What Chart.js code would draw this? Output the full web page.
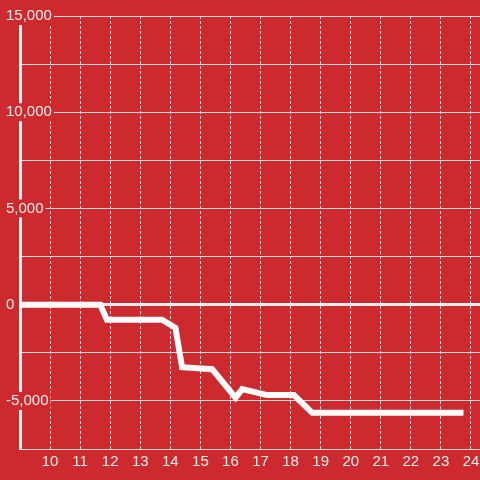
<!DOCTYPE html>
<html>
<head>
    <title>Line chart</title>
    <script src="https://cdnjs.cloudflare.com/ajax/libs/Chart.js/4.4.1/chart.umd.min.js"></script>
    <style>
        body { margin: 0; background: #cc2a2e; }
        canvas { display: block; }
    </style>
</head>
<body>
    <canvas id="myChart" width="480" height="480"></canvas>

    <script>
        // values
        const xValues = [9, 11.67, 11.89, 13.72, 14.17, 14.39, 15.39, 16.17, 16.39, 17.22, 18.11, 18.72, 23.65];
        const yValues = [0, 0, -780, -780, -1200, -3250, -3350, -4830, -4390, -4700, -4700, -5620, -5620];
        const xTicks = [10, 11, 12, 13, 14, 15, 16, 17, 18, 19, 20, 21, 22, 23, 24];
        const yTicks = [-7500, -5000, -2500, 0, 2500, 5000, 7500, 10000, 12500, 15000];

        const bg = '#cc2a2e';
        const points = xValues.map((x, i) => ({ x: x, y: yValues[i] }));

        Chart.defaults.font.family = "'Liberation Sans', Arial, sans-serif";
        Chart.defaults.font.size = 15;

        const ctx = document.getElementById('myChart').getContext('2d');
        new Chart(ctx, {
            type: 'line',
            data: {
                datasets: [{
                    data: points,
                    borderColor: '#fff',
                    borderWidth: 6,
                    borderCapStyle: 'square',
                    borderJoinStyle: 'miter',
                    pointRadius: 0,
                    tension: 0,
                    fill: false
                }]
            },
            options: {
                responsive: false,
                animation: false,
                layout: { padding: { top: 16, left: 6, right: 0, bottom: 5 } },
                plugins: {
                    legend: { display: false },
                    tooltip: { enabled: false }
                },
                scales: {
                    x: {
                        type: 'linear',
                        min: 9,
                        max: 24.3,
                        afterBuildTicks: axis => { axis.ticks = xTicks.map(v => ({ value: v })); },
                        afterFit: axis => { axis.paddingLeft = 0; axis.paddingRight = 0; },
                        grid: { color: 'rgba(255,255,255,0.85)', drawTicks: false },
                        border: { display: false, dash: [3, 2] },
                        ticks: { color: '#eee', padding: 4, maxRotation: 0 }
                    },
                    y: {
                        min: -7500,
                        max: 15000,
                        afterBuildTicks: axis => { axis.ticks = yTicks.map(v => ({ value: v })); },
                        afterFit: axis => { axis.width = 14; axis.paddingTop = 0; axis.paddingBottom = 0; },
                        grid: {
                            drawTicks: false,
                            color: c => c.tick && c.tick.value === 0 ? '#eee' : '#d8d8d8',
                            lineWidth: c => c.tick && c.tick.value === 0 ? 3 : 1
                        },
                        border: { display: true, color: '#eee', width: 3 },
                        ticks: {
                            color: '#eee',
                            mirror: true,
                            padding: -14,
                            showLabelBackdrop: true,
                            backdropColor: bg,
                            backdropPadding: { top: 0, bottom: 0, left: 3, right: 2 },
                            callback: v => v % 5000 === 0 ? v.toLocaleString('en-US') : ''
                        }
                    }
                }
            }
        });
    </script>
</body>
</html>
